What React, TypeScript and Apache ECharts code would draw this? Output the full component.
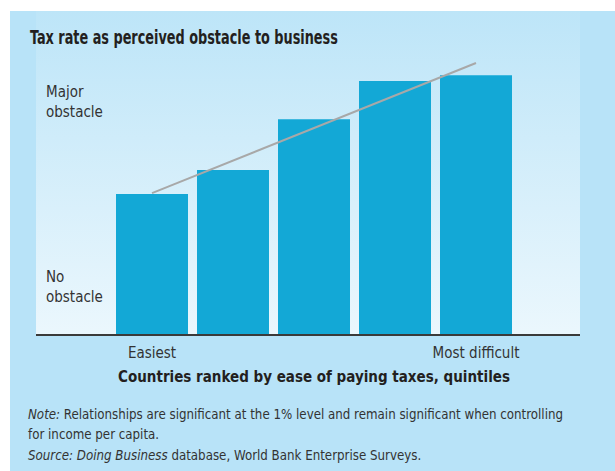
import React, { useEffect, useRef } from "react";
import * as echarts from "echarts";

const categories = ["Q1", "Q2", "Q3", "Q4", "Q5"];
const tickLabels = ["Easiest", "", "", "", "Most difficult"];
const obstacleScores = [51.3, 60, 78.5, 92.4, 94.5];
const trendLine = [51.6, null, null, null, 98.9];
const yLabels = ["Major\nobstacle", "No\nobstacle"];

const FONT = "'DejaVu Sans Condensed', 'Noto Sans', sans-serif";

export default function App() {
  const ref = useRef<HTMLDivElement>(null);
  useEffect(() => {
    document.body.style.margin = "0";
    const chart = echarts.init(ref.current!, null, { renderer: "svg" });
    chart.setOption({
      animation: false,
      backgroundColor: "#ffffff",
      grid: { left: 111.5, right: 98.5, top: 60, bottom: 136 },
      xAxis: {
        type: "category",
        data: categories,
        axisLine: { show: false },
        axisTick: { show: false },
        axisLabel: {
          formatter: (_v: string, i: number) => tickLabels[i],
          color: "#333333",
          fontSize: 15,
          fontFamily: FONT,
          margin: 10,
          interval: 0,
        },
        name: "Countries ranked by ease of paying taxes, quintiles",
        nameLocation: "middle",
        nameGap: 34,
        nameTextStyle: { color: "#231f20", fontSize: 15, fontWeight: "bold", fontFamily: FONT },
      },
      yAxis: { type: "value", min: 0, max: 100, show: false },
      graphic: [
        { type: "rect", z: -10, shape: { x: 10, y: 11, width: 605, height: 460 }, style: { fill: "#b8e3f8" } },
        {
          type: "rect", z: -9, shape: { x: 36, y: 11, width: 544, height: 324 },
          style: {
            fill: new echarts.graphic.LinearGradient(0, 0, 0, 1, [
              { offset: 0, color: "#bde5f8" },
              { offset: 1, color: "#ebf7fd" },
            ]),
          },
        },
        { type: "line", z: 10, shape: { x1: 36, y1: 335, x2: 580, y2: 335 }, style: { stroke: "#3a3a3a", lineWidth: 2 } },
        {
          type: "text", z: 10, x: 30, y: 28, scaleX: 0.76,
          style: { text: "Tax rate as perceived obstacle to business", fill: "#231f20", fontSize: 18.8, fontWeight: "bold", fontFamily: FONT },
        },
        {
          type: "text", z: 10, x: 46, y: 82,
          style: { text: yLabels[0], fill: "#333333", fontSize: 15, lineHeight: 20, fontFamily: FONT },
        },
        {
          type: "text", z: 10, x: 46, y: 267,
          style: { text: yLabels[1], fill: "#333333", fontSize: 15, lineHeight: 20, fontFamily: FONT },
        },
        {
          type: "text", z: 10, x: 28, y: 404,
          style: {
            text: "{i|Note:} Relationships are significant at the 1% level and remain significant when controlling\nfor income per capita.\n{i|Source: Doing Business} database, World Bank Enterprise Surveys.",
            fill: "#333333", fontSize: 13.2, lineHeight: 20.5, fontFamily: FONT,
            rich: { i: { fontStyle: "italic", fontSize: 13.2, fontFamily: FONT, fill: "#333333" } },
          },
        },
      ],
      series: [
        {
          type: "bar",
          data: obstacleScores,
          barWidth: 72,
          itemStyle: { color: "#13a8d6" },
          silent: true,
        },
        {
          type: "line",
          data: trendLine,
          connectNulls: true,
          symbol: "none",
          lineStyle: { color: "#a8a8a8", width: 2 },
          z: 5,
          silent: true,
        },
      ],
    });
    return () => chart.dispose();
  }, []);
  return <div ref={ref} style={{ width: 615, height: 471 }} />;
}
